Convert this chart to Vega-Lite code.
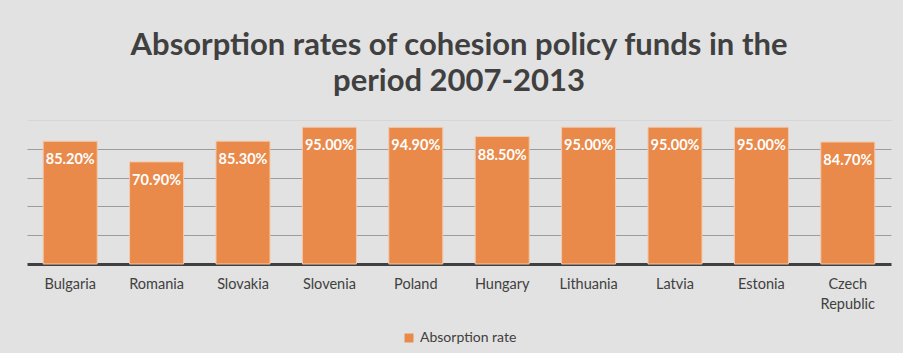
{
  "$schema": "https://vega.github.io/schema/vega-lite/v6.json",
  "width": 864,
  "height": 144,
  "padding": {"left": 27, "right": 12, "top": 30, "bottom": 8},
  "autosize": {"type": "pad"},
  "background": "#e2e2e2",
  "title": {
    "text": ["Absorption rates of cohesion policy funds in the", "period 2007-2013"],
    "font": "Lato",
    "fontSize": 31,
    "fontWeight": "bold",
    "color": "#404040",
    "lineHeight": 36,
    "anchor": "middle",
    "offset": 22
  },
  "data": {
    "values": [
      {"country": "Bulgaria", "rate": 0.852},
      {"country": "Romania", "rate": 0.709},
      {"country": "Slovakia", "rate": 0.853},
      {"country": "Slovenia", "rate": 0.950},
      {"country": "Poland", "rate": 0.949},
      {"country": "Hungary", "rate": 0.885},
      {"country": "Lithuania", "rate": 0.950},
      {"country": "Latvia", "rate": 0.950},
      {"country": "Estonia", "rate": 0.950},
      {"country": "Czech Republic", "rate": 0.847}
    ]
  },
  "encoding": {
    "x": {
      "field": "country",
      "type": "nominal",
      "sort": null,
      "scale": {"paddingInner": 0.375, "paddingOuter": 0.1875},
      "axis": {
        "title": null,
        "labelAngle": 0,
        "labelFont": "Lato",
        "labelFontSize": 14.5,
        "labelColor": "#404040",
        "labelPadding": 13,
        "labelLineHeight": 20,
        "labelExpr": "split(datum.label, ' ')",
        "ticks": false,
        "domainColor": "#404040",
        "domainWidth": 3,
        "grid": false
      }
    },
    "y": {
      "field": "rate",
      "type": "quantitative",
      "scale": {"domain": [0, 1]},
      "axis": {
        "title": null,
        "labels": false,
        "ticks": false,
        "domain": false,
        "values": [0.2, 0.4, 0.6, 0.8, 1.0],
        "grid": true,
        "gridColor": {"condition": {"test": "datum.value == 1", "value": "#d6d6d6"}, "value": "#9c9c9c"},
        "gridWidth": 1
      }
    }
  },
  "layer": [
    {
      "mark": {"type": "bar", "stroke": "#f4c9aa", "strokeWidth": 1},
      "encoding": {
        "color": {
          "datum": "Absorption rate",
          "type": "nominal",
          "scale": {"range": ["#e9894a"]},
          "legend": {
            "title": null,
            "orient": "bottom",
            "direction": "horizontal",
            "symbolType": "square",
            "symbolSize": 80,
            "symbolStrokeWidth": 0,
            "labelFont": "Lato",
            "labelFontSize": 14,
            "labelColor": "#404040",
            "offset": 20
          }
        }
      }
    },
    {
      "mark": {"type": "text", "dy": 19, "baseline": "middle", "font": "Lato", "fontSize": 14.5, "fontWeight": "bold", "color": "white"},
      "encoding": {
        "text": {"field": "rate", "type": "quantitative", "format": ".2%"}
      }
    }
  ],
  "config": {
    "view": {"stroke": null},
    "legend": {"layout": {"bottom": {"anchor": "middle"}}}
  }
}
